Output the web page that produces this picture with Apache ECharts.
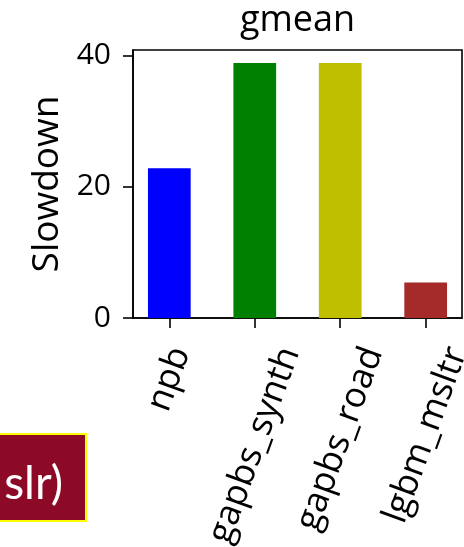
<!DOCTYPE html>
<html>
<head>
<meta charset="utf-8">
<script src="https://cdn.jsdelivr.net/npm/echarts@6/dist/echarts.min.js"></script>
<style>
  html, body { margin: 0; padding: 0; background: #ffffff; }
  #chart { width: 464px; height: 547px; }
</style>
</head>
<body>
<div id="chart"></div>
<script>
// Benchmark groups and their geometric-mean slowdown
const categories = ['npb', 'gapbs_synth', 'gapbs_road', 'lgbm_msltr'];
const slowdown = [22.85, 38.9, 38.9, 5.4];
const barColors = ['#0000ff', '#008000', '#bfbf00', '#a52a2a'];
const yTicks = [0, 20, 40];
const yMax = 40.9;
const titleText = 'gmean';
const yName = 'Slowdown';
const boxText = 'slr)';

const FONT = '"Open Sans", sans-serif';
const TICK_FS = 30;
const XLAB_FS = 35.5;
const TITLE_FS = 36;
const YNAME_FS = 37;
const ROT = 70;
const RAD = ROT * Math.PI / 180;

const W = 464, H = 547;
const gridTop = 50, gridBottom = 229, gridLeft = 133, gridRight = 2;
const axisY = H - gridBottom;
const tickLen = 10;
const xMin = -0.425, xMax = categories.length - 1 + 0.425;
const unitPx = (W - gridLeft - gridRight) / (xMax - xMin);

const measureCtx = document.createElement('canvas').getContext('2d');
function textWidth(s, size) {
  measureCtx.font = size + 'px "Open Sans"';
  return measureCtx.measureText(s).width;
}

const chart = echarts.init(document.getElementById('chart'), null, { renderer: 'canvas' });

const titleW = textWidth(titleText, TITLE_FS);
const plotCenterX = gridLeft + (W - gridLeft - gridRight) / 2;

// Rotated tick labels: centred under each tick, top of rotated box just below the tick
function renderXLabel(params, api) {
  const i = api.value(0);
  const pt = api.coord([i, 0]);
  const text = categories[i];
  const L = textWidth(text, XLAB_FS);
  const lh = XLAB_FS * 0.9;
  const boxH = L * Math.sin(RAD) + lh * Math.cos(RAD);
  return {
    type: 'text',
    x: pt[0],
    y: axisY + tickLen + 15 + boxH / 2,
    rotation: RAD,
    style: {
      text: text,
      fontSize: XLAB_FS,
      fontFamily: FONT,
      lineHeight: lh,
      fill: '#000',
      align: 'center',
      verticalAlign: 'middle'
    }
  };
}

const option = {
  animation: false,
  backgroundColor: '#ffffff',
  title: {
    text: titleText,
    left: plotCenterX - titleW / 2,
    top: 3,
    padding: 0,
    textStyle: { fontSize: TITLE_FS, fontWeight: 'normal', fontFamily: FONT, color: '#000' }
  },
  grid: {
    left: gridLeft, right: gridRight, top: gridTop, bottom: gridBottom,
    show: true, borderColor: '#000', borderWidth: 1.6, backgroundColor: 'transparent'
  },
  xAxis: {
    type: 'value',
    min: xMin,
    max: xMax,
    splitLine: { show: false },
    axisLine: { show: true, onZero: false, lineStyle: { color: '#000', width: 1.6 } },
    axisTick: { show: true, length: tickLen, customValues: categories.map((c, i) => i), lineStyle: { color: '#000', width: 1.6 } },
    axisLabel: { show: false }
  },
  yAxis: {
    type: 'value',
    min: 0,
    max: yMax,
    name: yName,
    nameLocation: 'middle',
    nameRotate: 90,
    nameGap: 66,
    nameTextStyle: { fontSize: YNAME_FS, fontFamily: FONT, color: '#000' },
    splitLine: { show: false },
    axisLine: { show: true, onZero: false, lineStyle: { color: '#000', width: 1.6 } },
    axisTick: { show: true, length: tickLen, customValues: yTicks, lineStyle: { color: '#000', width: 1.6 } },
    axisLabel: { customValues: yTicks, fontSize: TICK_FS, fontFamily: FONT, color: '#000', margin: tickLen + 12 }
  },
  series: [
    {
      type: 'bar',
      barWidth: unitPx * 0.5,
      data: slowdown.map((v, i) => ({ value: [i, v], itemStyle: { color: barColors[i] } }))
    },
    {
      type: 'custom',
      clip: false,
      silent: true,
      renderItem: renderXLabel,
      data: categories.map((c, i) => [i, 0]),
      encode: { x: 0, y: 1 }
    }
  ],
  graphic: [
    {
      type: 'rect',
      shape: { x: -10, y: 434, width: 96, height: 87 },
      style: { fill: '#8c0a26', stroke: '#ffff00', lineWidth: 2 }
    },
    {
      type: 'text',
      style: {
        text: boxText, x: 63, y: 484, align: 'right', verticalAlign: 'middle',
        fill: '#ffffff', fontSize: 46, fontFamily: 'Lato, sans-serif'
      }
    }
  ]
};

chart.setOption(option);
</script>
</body>
</html>
